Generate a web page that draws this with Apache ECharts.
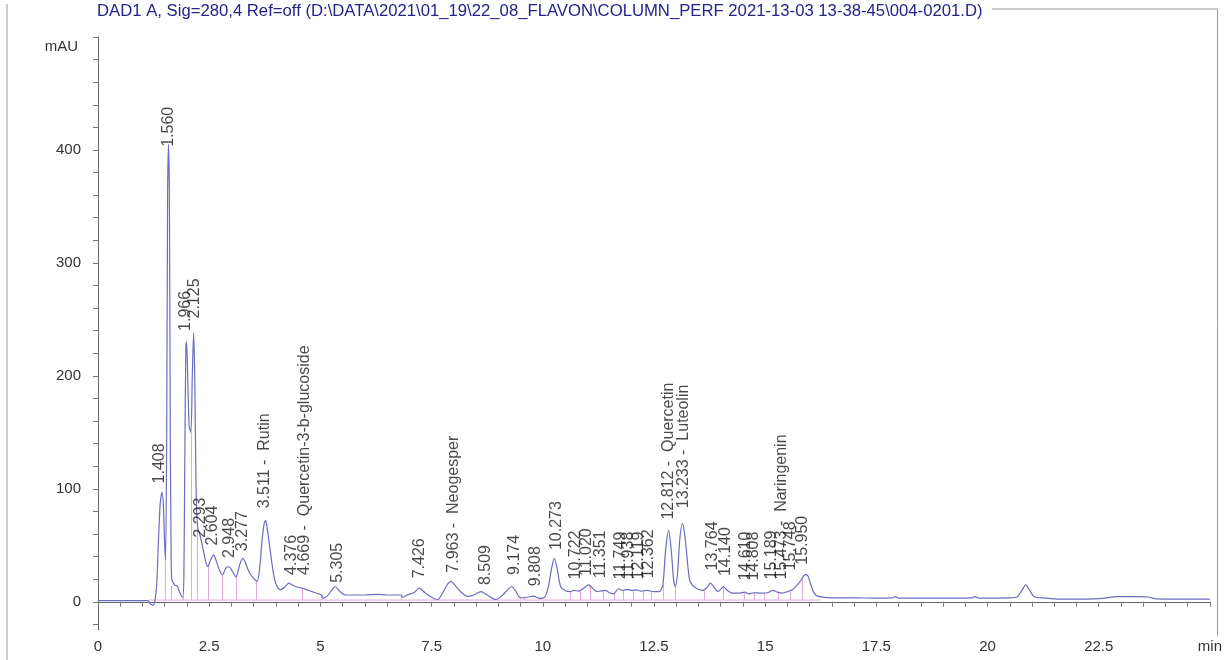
<!DOCTYPE html>
<html>
<head>
<meta charset="utf-8">
<script src="https://cdn.jsdelivr.net/npm/echarts@6/dist/echarts.min.js"></script>
<style>
html,body{margin:0;padding:0;background:#fff;}
#chart{width:1225px;height:660px;}
</style>
</head>
<body>
<div id="chart"></div>
<script>
// ---- data ----
const titleText = 'DAD1 A, Sig=280,4 Ref=off (D:\\DATA\\2021\\01_19\\22_08_FLAVON\\COLUMN_PERF 2021-13-03 13-38-45\\004-0201.D)';
const yUnit = 'mAU';
const xUnit = 'min';
const xTickLabels = [0, 2.5, 5, 7.5, 10, 12.5, 15, 17.5, 20, 22.5, 25];
const yTickLabels = [0, 100, 200, 300, 400];

// trace: retention time (min) and absorbance (mAU)
const traceTime = [0,0.5,1.0,1.12,1.18,1.24,1.28,1.32,1.36,1.40,1.44,1.47,1.50,1.52,1.545,1.565,1.585,1.605,1.625,1.645,1.66,1.72,1.78,1.84,1.90,1.93,1.95,1.975,1.99,2.01,2.05,2.09,2.12,2.15,2.175,2.205,2.24,2.30,2.35,2.42,2.47,2.53,2.60,2.66,2.73,2.80,2.88,2.95,3.02,3.10,3.18,3.25,3.30,3.38,3.47,3.58,3.64,3.69,3.74,3.77,3.80,3.84,3.88,3.94,3.99,4.05,4.10,4.20,4.29,4.36,4.44,4.59,4.70,4.81,4.92,5.03,5.06,5.15,5.25,5.33,5.42,5.50,5.56,6.0,6.3,6.5,6.82,6.85,6.95,7.10,7.23,7.35,7.50,7.64,7.75,7.85,7.94,8.02,8.15,8.31,8.45,8.61,8.75,8.95,9.10,9.22,9.30,9.38,9.50,9.65,9.80,9.92,10.03,10.12,10.20,10.26,10.32,10.40,10.50,10.62,10.70,10.80,10.92,11.03,11.12,11.22,11.30,11.40,11.50,11.59,11.70,11.80,11.90,12.00,12.10,12.20,12.35,12.50,12.62,12.70,12.76,12.83,12.89,12.94,12.98,13.03,13.08,13.14,13.19,13.23,13.30,13.38,13.45,13.60,13.70,13.77,13.85,13.94,14.00,14.06,14.15,14.27,14.40,14.55,14.62,14.75,14.90,15.05,15.17,15.28,15.39,15.50,15.61,15.70,15.76,15.82,15.90,15.96,16.02,16.10,16.20,16.5,17.0,17.5,17.85,17.92,18.0,19.0,19.65,19.71,19.8,20.5,20.67,20.77,20.86,20.95,21.05,21.3,21.6,22.2,22.6,22.9,23.3,23.6,23.8,24.3,25];
const traceMAU = [1,1,1,1,-2,-3,1,15,55,88,97,85,50,37,150,360,405,360,150,40,20,15,14,8,4,20,120,225,230,210,155,150,200,238,200,102,66,58,49,36,31,37,41.5,36,28,24,30,31,27,22,32,38.5,36,28,22,18,32,55,70,72,66,55,43,26,17,12,10.6,13,16.5,15,13.5,12,10.5,9,7.5,6,3,5,10,13.5,10,7,6,6,6.5,6,6,4,6,8,12,8,4,2,8,15,18,15,9,4.7,6,9,6,2,6,11,13.5,10,3.5,4,5,3,3.5,12,30,38.5,30,13.5,10,9,10,9.5,12,15,12,9,9.5,10,8,7,11.5,10,11,10,10.5,9.5,10,9,9,15,45,63.5,45,20,13.5,25,55,69.5,60,45,19.4,14,12,10,13,16.5,13,9,11,13.5,10,7.6,7.6,8.5,7,8,7.6,8,10,8.5,7.6,9,10.6,14,16.5,20,24,23,16,7.6,4.7,3.5,3.4,3.3,3.5,4.5,3.3,3.3,3.5,4.5,3.3,3.5,4.5,10,15,10,4.5,3.3,2.4,2.4,3.0,4.5,4.5,4.2,2.6,2.4,2.4];

// peak annotations: label text, time where it is drawn, height where it starts
const peakText = ['1.408','1.560','1.966','2.125','2.293','2.604','2.948','3.277','3.511 -  Rutin','4.376','4.669 -  Quercetin-3-b-glucoside','5.305','7.426','7.963 -  Neogesper','8.509','9.174','9.808','10.273','10.722','11.020','11.351','11.749','11.938','12.119','12.362','12.812 -  Quercetin','13.233 -  Luteolin','13.764','14.140','14.610','14.808','15.189','15.473 -  Naringenin','15.748','15.950'];
const peakTime = [1.385,1.587,1.97,2.17,2.30,2.57,2.95,3.24,3.75,4.36,4.65,5.38,7.24,8.0,8.71,9.36,9.83,10.30,10.73,10.99,11.31,11.75,11.93,12.15,12.38,12.83,13.16,13.81,14.10,14.57,14.73,15.15,15.37,15.58,15.84];
const peakHeight = [103,401,238,249,55,48,37,43,81,22,22,15,19,24,13,22,12,44,18,21,19,18,18,18,19,71,81,26,21,17,17,18,18,26,31];

// integration drop lines: time and top (mAU)
const dropTime = [1.52,1.65,1.91,2.09,2.24,2.47,2.80,3.10,3.55,4.59,5.03,6.82,7.64,8.95,9.59,9.94,10.61,10.84,11.06,11.37,11.60,11.82,12.04,12.27,12.45,12.71,12.98,13.63,14.06,14.52,14.75,14.97,15.30,15.57,15.84];
const dropTop = [37,14,5,150,66,31,24,22,18,12,6,6,2,2,4,3,9,10,13,10,7,10,10,10,9,15,13.5,10,13.5,8,8,8,8,10,20];
const baselineSpan = [1.15, 16.25];
const baselineLevel = 1.5;

// ---- build chart ----
const FONT = '"Liberation Sans", Arial, sans-serif';
const traceData = traceTime.map((t, i) => [t, traceMAU[i]]);
const peakData = peakTime.map((t, i) => ({ value: [t, peakHeight[i]], name: peakText[i] }));
const dropData = dropTime.map((t, i) => ({ coords: [[t, baselineLevel], [t, dropTop[i]]] }));
const xTicks = []; for (let v = 0; v <= 25.001; v += 0.5) xTicks.push(+v.toFixed(1));
const yTicks = []; for (let v = -20; v <= 500; v += 20) yTicks.push(v);

const chart = echarts.init(document.getElementById('chart'), null, { renderer: 'canvas' });
chart.setOption({
  animation: false,
  backgroundColor: '#fff',
  grid: { left: 98, right: 8, top: 37, bottom: 30 },
  xAxis: {
    type: 'value', min: 0, max: 25,
    axisLine: { show: true, lineStyle: { color: '#666', width: 1 } },
    axisTick: { show: true, customValues: xTicks, length: 5, lineStyle: { color: '#777' } },
    axisLabel: {
      customValues: xTickLabels, margin: 9, color: '#333', fontSize: 15, fontFamily: FONT,
      formatter: v => (v === 25 ? xUnit : String(v))
    },
    splitLine: { show: false }
  },
  yAxis: {
    type: 'value', min: -25, max: 500,
    name: yUnit, nameLocation: 'end', nameGap: -10,
    nameTextStyle: { color: '#333', fontSize: 15, fontFamily: FONT, align: 'right', verticalAlign: 'middle', padding: [0, 20, 0, 0] },
    axisLine: { show: true, lineStyle: { color: '#666', width: 1 } },
    axisTick: { show: true, customValues: yTicks, length: 5, lineStyle: { color: '#777' } },
    axisLabel: { customValues: yTickLabels, margin: 17, color: '#333', fontSize: 15, fontFamily: FONT },
    splitLine: { show: false }
  },
  series: [
    {
      type: 'line', data: [[baselineSpan[0], baselineLevel], [baselineSpan[1], baselineLevel]],
      showSymbol: false, lineStyle: { color: '#e4a8dc', width: 1 }, silent: true, z: 1
    },
    {
      type: 'lines', coordinateSystem: 'cartesian2d', data: dropData,
      lineStyle: { color: '#e4a8dc', width: 1, opacity: 1 }, silent: true, z: 1
    },
    {
      type: 'line', data: traceData, showSymbol: false, smooth: 0.25,
      lineStyle: { color: '#6c6cc0', width: 1.2 }, z: 3
    },
    {
      type: 'scatter', data: peakData, symbolSize: 0, z: 4,
      label: {
        show: true, position: 'top', distance: 2, rotate: 90, align: 'left', verticalAlign: 'middle',
        formatter: p => p.name, color: '#1a1a1a', fontSize: 16, fontFamily: FONT
      }
    }
  ],
  graphic: [
    { type: 'text', left: 97, top: 3, style: { text: titleText, fill: '#23238a', font: '16.7px ' + FONT } },
    { type: 'line', shape: { x1: 7, y1: 4, x2: 7, y2: 660 }, style: { stroke: '#9a9a9a', lineWidth: 1 } },
    { type: 'line', shape: { x1: 992, y1: 9, x2: 1218, y2: 9 }, style: { stroke: '#9a9a9a', lineWidth: 1 } },
    { type: 'line', shape: { x1: 1217.5, y1: 9, x2: 1217.5, y2: 636 }, style: { stroke: '#9a9a9a', lineWidth: 1 } }
  ]
});
</script>
</body>
</html>
